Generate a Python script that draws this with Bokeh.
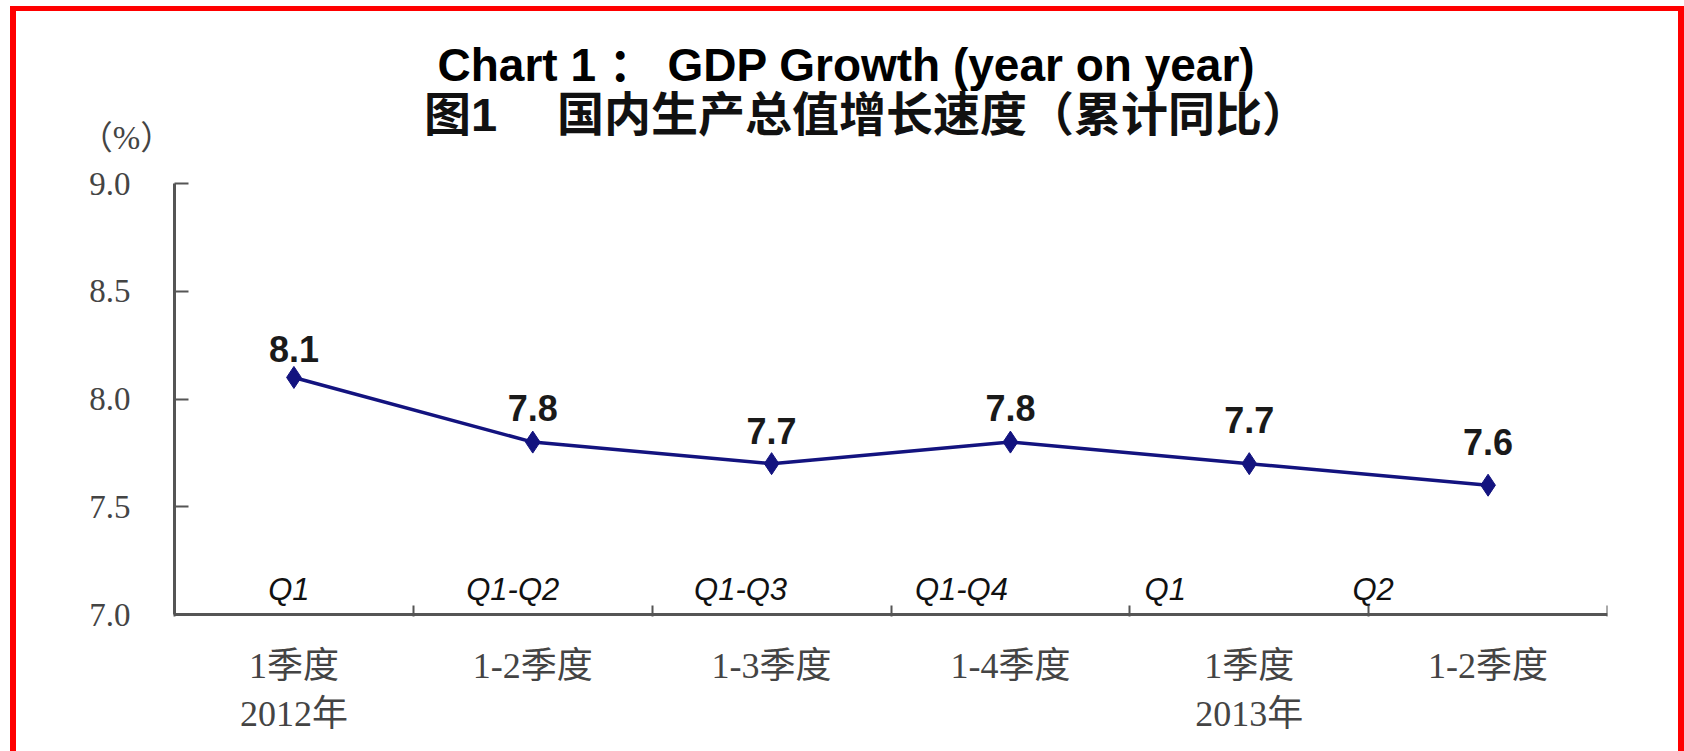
from bokeh.plotting import figure
from bokeh.layouts import column
from bokeh.models import FixedTicker, NumeralTickFormatter, Label, ColumnDataSource, Range1d
from bokeh.core.properties import value
from bokeh.embed import file_html
from bokeh.resources import INLINE

# ---- data ----
periods = ["1季度\n2012年", "1-2季度", "1-3季度", "1-4季度", "1季度\n2013年", "1-2季度"]
q_labels = ["Q1", "Q1-Q2", "Q1-Q3", "Q1-Q4", "Q1", "Q2"]
growth = [8.1, 7.8, 7.7, 7.8, 7.7, 7.6]
value_labels = ["8.1", "7.8", "7.7", "7.8", "7.7", "7.6"]
y_ticks = [7.0, 7.5, 8.0, 8.5, 9.0]

title_en = "Chart 1 ： GDP Growth (year on year)"
title_cn = "图1\u3000 国内生产总值增长速度（累计同比）"
unit_label = "（%）"

# ---- styles / layout (pixels) ----
label_dy = [28, 34, 33, 34, 44, 43]            # px above the point
q_dx = [-5, -20, -31, -49, -84, -115]          # px offset of the Q labels
LINE = "#13137f"
AXIS = "#555555"
GREY_TXT = "#444444"
SERIF = "Liberation Serif, Noto Sans CJK SC"
SANS = "Liberation Sans, Noto Sans CJK SC"

W, H = 1662, 740          # canvas
AX_L, AX_T = 158, 172     # where the axes start inside the canvas
AX_W, AX_H = 1433, 431    # length of the x and y axes
n = len(growth)
px_x = AX_W / n
px_y = AX_H / (y_ticks[-1] - y_ticks[0])
xc = [i + 0.5 for i in range(n)]
bottom_pad = H - AX_T - AX_H

p = figure(width=W, height=H, output_backend="svg", toolbar_location=None,
           x_range=Range1d(-AX_L / px_x, n),
           y_range=Range1d(y_ticks[0] - bottom_pad / px_y, y_ticks[-1] + AX_T / px_y),
           min_border_left=0, min_border_top=0, min_border_bottom=0,
           min_border_right=W - AX_L - AX_W,
           background_fill_color="white", border_fill_color="white",
           outline_line_color=None)
p.grid.visible = False

ya = p.yaxis[0]
ya.fixed_location = 0
ya.bounds = (y_ticks[0], y_ticks[-1])
ya.ticker = FixedTicker(ticks=y_ticks)
ya.formatter = NumeralTickFormatter(format="0.0")
ya.axis_line_color = AXIS
ya.axis_line_width = 3
ya.major_tick_line_color = AXIS
ya.major_tick_line_width = 2
ya.major_tick_in = 14
ya.major_tick_out = 0
ya.minor_tick_line_color = None
ya.major_label_standoff = 44
ya.major_label_text_font = SERIF
ya.major_label_text_font_size = "33px"
ya.major_label_text_color = GREY_TXT

xa = p.xaxis[0]
xa.fixed_location = y_ticks[0]
xa.bounds = (0, n)
xa.ticker = FixedTicker(ticks=xc, minor_ticks=list(range(n + 1)))
xa.major_label_overrides = {x: lab for x, lab in zip(xc, periods)}
xa.axis_line_color = AXIS
xa.axis_line_width = 3
xa.major_tick_line_color = None
xa.major_tick_in = 0
xa.major_tick_out = 0
xa.minor_tick_line_color = AXIS
xa.minor_tick_line_width = 2
xa.minor_tick_in = 9
xa.minor_tick_out = 2
xa.major_label_standoff = 29
xa.major_label_text_font = SERIF
xa.major_label_text_font_size = "36px"
xa.major_label_text_color = GREY_TXT
xa.major_label_text_line_height = 1.2

src = ColumnDataSource(dict(x=xc, y=growth, lab=value_labels, dy=[-d for d in label_dy],
                            q=q_labels, qdx=q_dx, qy=[y_ticks[0]] * n))

p.line("x", "y", source=src, line_color=LINE, line_width=3.5)
p.scatter("x", "y", source=src, marker="diamond", size=22, fill_color=LINE, line_color=LINE)
p.text("x", "y", text="lab", source=src, y_offset="dy", text_align="center",
       text_baseline="middle", text_font=value(SANS), text_font_style="bold",
       text_font_size="36px", text_color="#1a1a1a")
p.text("x", "qy", text="q", source=src, x_offset="qdx", y_offset=-25, text_align="center",
       text_baseline="middle", text_font=value(SANS), text_font_style="italic",
       text_font_size="31px", text_color="#111111")

# titles and unit (screen px from the frame's bottom-left corner = canvas bottom-left)
p.add_layout(Label(x=830, y=H - 53, x_units="screen", y_units="screen", text=title_en,
                   text_align="center", text_baseline="middle", text_font=SANS,
                   text_font_style="bold", text_font_size="46px", text_color="#000000"))
p.add_layout(Label(x=850, y=H - 103, x_units="screen", y_units="screen", text=title_cn,
                   text_align="center", text_baseline="middle", text_font=SANS,
                   text_font_style="bold", text_font_size="47px", text_color="#111111"))
p.add_layout(Label(x=110, y=H - 126, x_units="screen", y_units="screen", text=unit_label,
                   text_align="center", text_baseline="middle", text_font=SERIF,
                   text_font_size="33px", text_color=GREY_TXT))

layout = column(p, spacing=0,
                styles={"margin-left": "10px", "margin-top": "6px",
                        "border-left": "6px solid red", "border-top": "5px solid red",
                        "border-right": "6px solid red"})

open("out.html", "w").write(file_html(layout, INLINE))
